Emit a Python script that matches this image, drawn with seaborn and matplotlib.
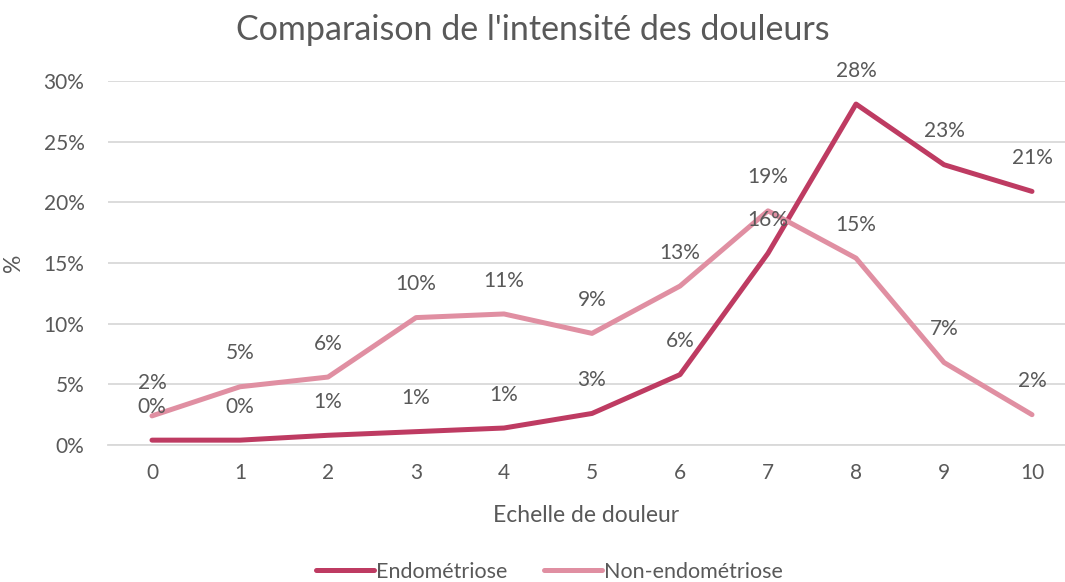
import matplotlib.pyplot as plt
import numpy as np
import pandas as pd
import seaborn as sns

echelle = list(range(11))
endometriose = [0.4, 0.4, 0.8, 1.1, 1.4, 2.6, 5.8, 15.8, 28.1, 23.1, 20.9]
non_endometriose = [2.4, 4.8, 5.6, 10.5, 10.8, 9.2, 13.1, 19.3, 15.4, 6.8, 2.5]
series = ["Endométriose", "Non-endométriose"]
couleurs = ["#BE3B62", "#E08FA2"]

df = pd.DataFrame({
    "Echelle": echelle * 2,
    "Pourcentage": endometriose + non_endometriose,
    "Groupe": [series[0]] * 11 + [series[1]] * 11,
})

sns.set_theme(style="white")
plt.rcParams['font.family'] = ['Lato', 'DejaVu Sans']
gris = "#595959"

fig = plt.figure(figsize=(10.65, 5.82), dpi=100)
ax = fig.add_axes([108 / 1065, 137 / 582, (1065 - 108) / 1065, 364 / 582])

sns.lineplot(data=df, x="Echelle", y="Pourcentage", hue="Groupe",
             palette=dict(zip(series, couleurs)), linewidth=3.6,
             solid_capstyle="round", ax=ax, legend=False)

for nom, vals in zip(series, [endometriose, non_endometriose]):
    for x, v in zip(echelle, vals):
        ax.annotate(f"{v:.0f}%", (x, v), xytext=(0, 24), textcoords="offset points",
                    ha="center", va="center", fontsize=15, color=gris)

ax.set_xlim(-0.5, 10.375)
ax.set_ylim(0, 30)
ax.set_xticks(echelle)
ax.set_yticks(np.arange(0, 31, 5))
ax.set_yticklabels([f"{t}%" for t in range(0, 31, 5)])
ax.tick_params(axis="both", labelsize=15, labelcolor=gris, length=0)
ax.tick_params(axis="x", pad=13)
ax.tick_params(axis="y", pad=17)
ax.grid(axis="y", color="#D9D9D9", linewidth=1.3)
ax.set_axisbelow(True)
for s in ["top", "right", "left"]:
    ax.spines[s].set_visible(False)
ax.spines["bottom"].set_color("#D9D9D9")
ax.spines["bottom"].set_linewidth(1.3)

ax.set_xlabel("Echelle de douleur", fontsize=16.5, color=gris, labelpad=16)
ax.set_ylabel("%", fontsize=16.5, color=gris, labelpad=14)
fig.text(0.5, 0.948, "Comparaison de l'intensité des douleurs", ha="center", va="center",
         fontsize=24.5, color=gris)

handles = [plt.Line2D([], [], color=c, linewidth=3.6, solid_capstyle="round") for c in couleurs]
fig.legend(handles, series, loc="center", bbox_to_anchor=(0.516, 0.018), ncol=2, frameon=False,
           fontsize=15.5, labelcolor=gris, handlelength=2.7, handletextpad=0.1, columnspacing=1.7)

fig.savefig("out.png", dpi=100)
